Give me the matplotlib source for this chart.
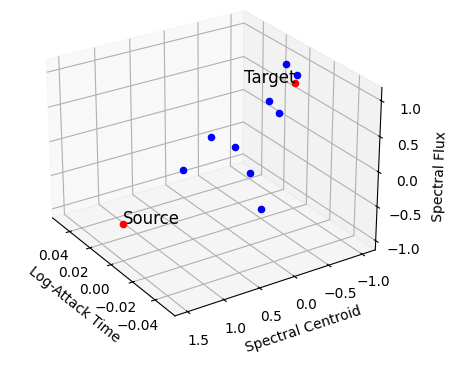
import matplotlib
matplotlib.use("Agg")
import matplotlib.pyplot as plt

# Points lie on Log-Attack Time = 0 (constant feature)
blue_x = [0, 0, 0, 0, 0, 0, 0, 0, 0]
blue_y = [-0.839, -1.017, -0.600, -0.752, 0.235, -0.102, 0.641, -0.331, -0.502]
blue_z = [1.035, 0.833, 0.570, 0.357, 0.283, 0.045, -0.073, -0.401, -0.988]

source_xyz = [0, 1.488, -0.605]
target_xyz = [0, -0.989, 0.726]
source_label = 'Source'
target_label = 'Target'

x_label = 'Log-Attack Time'
y_label = 'Spectral Centroid'
z_label = 'Spectral Flux'

fig = plt.figure(figsize=(4.52, 3.65), dpi=100)
ax = fig.add_axes([0.0481, 0.0557, 0.8173, 1.0121], projection='3d')

ax.scatter(blue_x, blue_y, blue_z, color='b', depthshade=False)
ax.scatter(*source_xyz, color='r', depthshade=False)
ax.scatter(*target_xyz, color='r', depthshade=False)
ax.text(*source_xyz, source_label, fontsize=12)
ax.text(*target_xyz, target_label, fontsize=12, ha='right')

ax.set_xlabel(x_label)
ax.set_ylabel(y_label)
ax.set_zlabel(z_label)
ax.view_init(elev=25.94, azim=146.84)

fig.savefig('out.png', dpi=100)
